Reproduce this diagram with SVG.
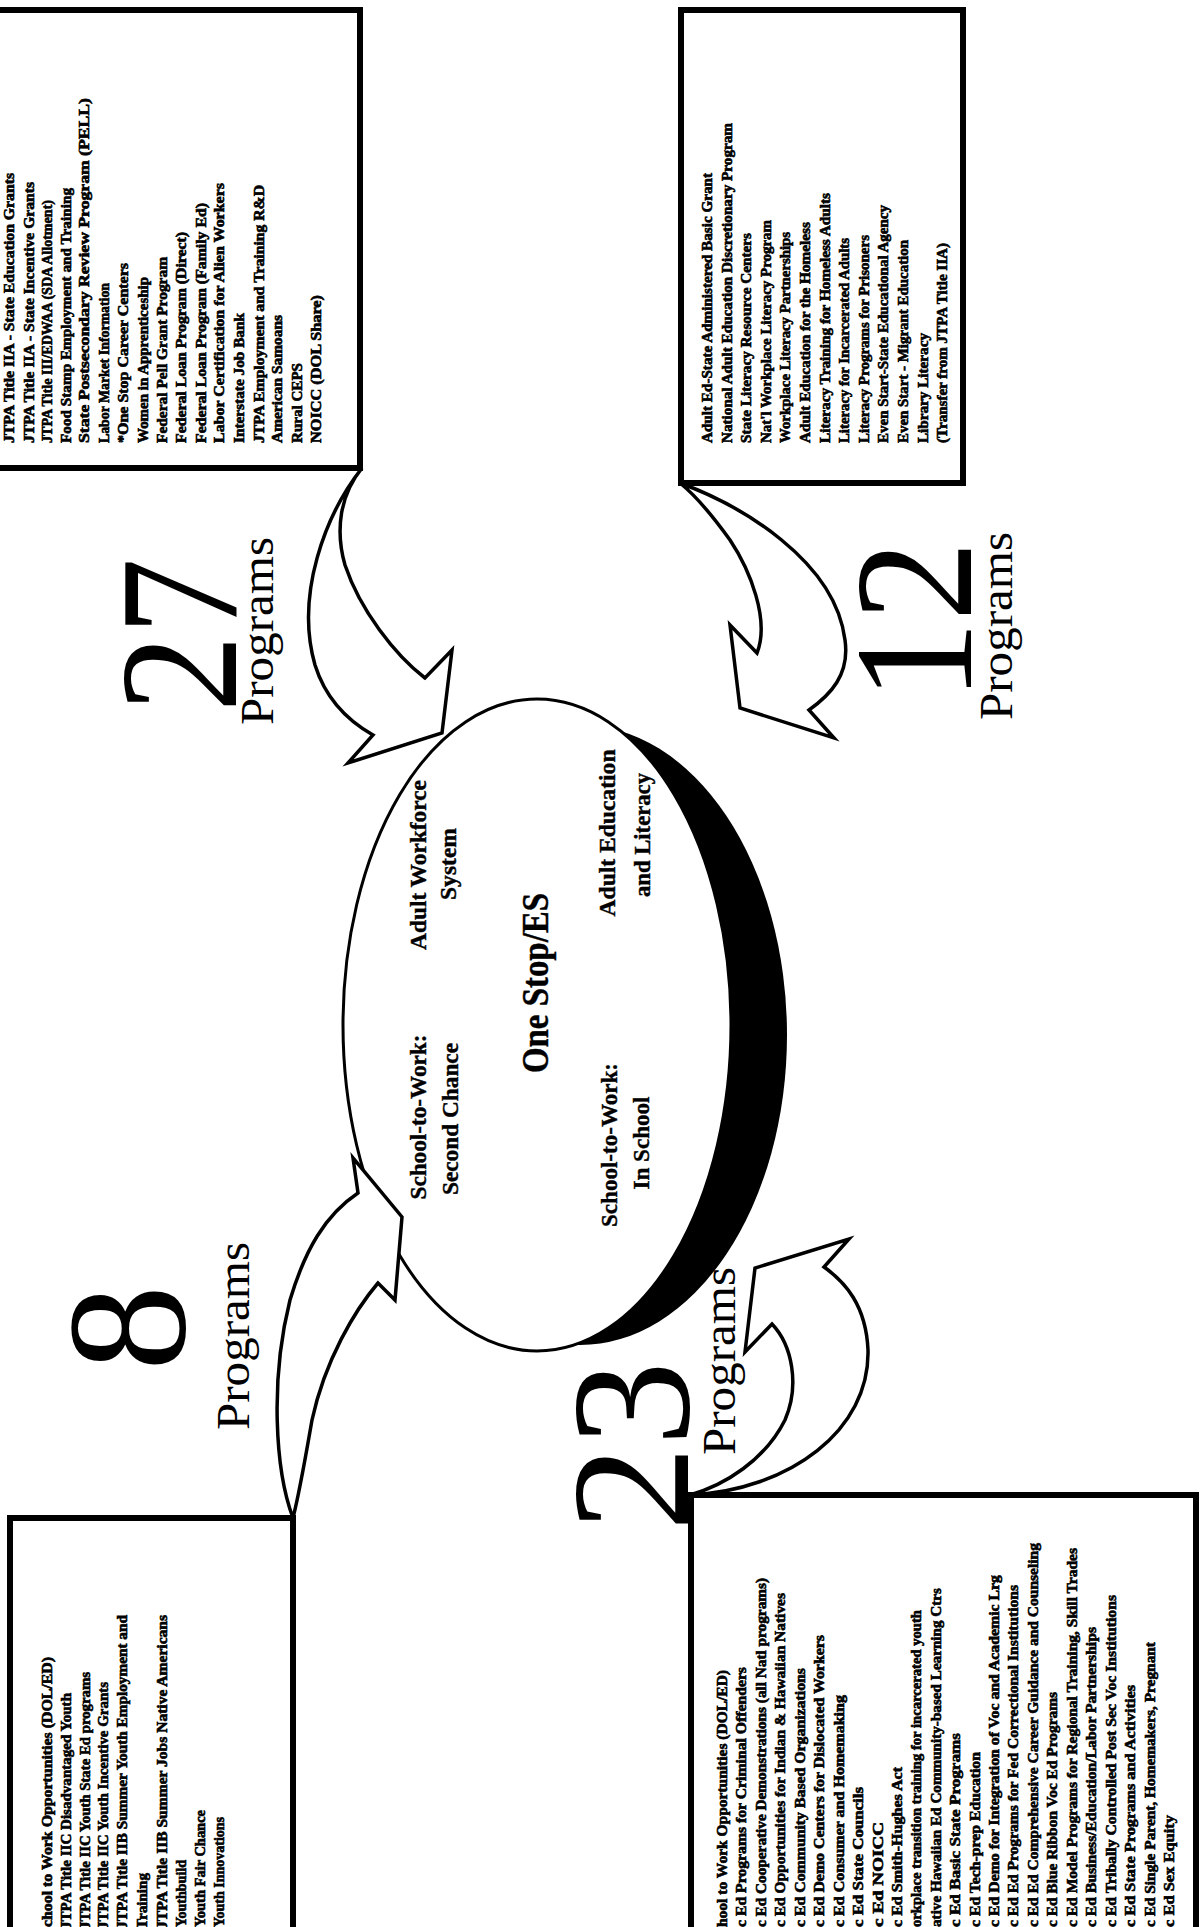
<svg xmlns="http://www.w3.org/2000/svg" width="1200" height="1927" viewBox="0 0 1200 1927">
<style>
.t{font-family:"Liberation Serif",serif;font-weight:bold;font-size:14px;fill:#000;stroke:#000;stroke-width:0.6}
.lb{font-family:"Liberation Serif",serif;font-weight:bold;font-size:24px;fill:#000;stroke:#000;stroke-width:0.4}
.big{font-family:"Liberation Serif",serif;font-size:170px;fill:#000}
.pg{font-family:"Liberation Serif",serif;font-size:46px;fill:#000}
.box{fill:#fff;stroke:#000;stroke-width:6}
.arr{fill:#fff;stroke:#000;stroke-width:3.5;stroke-linejoin:miter}
</style>
<rect width="1200" height="1927" fill="#fff"/>
<g id="hub">
<ellipse cx="580" cy="1035" rx="207" ry="310" fill="#000"/>
<ellipse cx="537" cy="1025" rx="194" ry="326" fill="#fff" stroke="#000" stroke-width="3"/>
<g class="lb" text-anchor="middle">
<text transform="translate(426,865) rotate(-90)" textLength="170" lengthAdjust="spacingAndGlyphs">Adult Workforce</text>
<text transform="translate(456,864) rotate(-90)" textLength="72" lengthAdjust="spacingAndGlyphs">System</text>
<text transform="translate(426,1117) rotate(-90)" textLength="165" lengthAdjust="spacingAndGlyphs">School-to-Work:</text>
<text transform="translate(458,1119) rotate(-90)" textLength="152" lengthAdjust="spacingAndGlyphs">Second Chance</text>
<text transform="translate(615,833) rotate(-90)" textLength="167" lengthAdjust="spacingAndGlyphs">Adult Education</text>
<text transform="translate(650,835) rotate(-90)" textLength="124" lengthAdjust="spacingAndGlyphs">and Literacy</text>
<text transform="translate(617,1145) rotate(-90)" textLength="164" lengthAdjust="spacingAndGlyphs">School-to-Work:</text>
<text transform="translate(649,1143) rotate(-90)" textLength="93" lengthAdjust="spacingAndGlyphs">In School</text>
<text transform="translate(548,983) rotate(-90)" style="font-size:37px" textLength="180" lengthAdjust="spacingAndGlyphs">One Stop/ES</text>
</g>
</g>
<g id="connectors">
<path class="arr" d="M362,468 C325,515 295,595 315,665 C326,700 350,722 373,735 L348,763 L442,733 L452,650 L425,678 C395,655 360,610 345,565 C335,530 340,495 362,468 Z"/>
<path class="arr" d="M680,483 C740,505 835,560 845,640 C850,675 830,695 809,710 L834,738 L740,708 L730,625 L757,653 C770,620 750,570 730,540 C712,515 695,495 680,483 Z"/>
<path class="arr" d="M293,1518 C275,1470 270,1380 290,1300 C305,1250 325,1215 358,1193 L353,1158 L402,1217 L395,1300 L378,1283 C355,1310 325,1360 312,1420 C305,1460 300,1490 293,1518 Z"/>
<path class="arr" d="M690,1495 C790,1490 870,1430 868,1350 C866,1305 845,1282 824,1267 L849,1239 L755,1268 L745,1352 L772,1324 C792,1345 800,1385 785,1420 C765,1460 725,1485 690,1495 Z"/>
</g>
<g id="box-27">
<rect class="box" x="-10" y="10" width="370" height="458"/>
<g class="t">
<text transform="translate(14,443) rotate(-90)" textLength="270" lengthAdjust="spacingAndGlyphs">JTPA Title IIA - State Education Grants</text>
<text transform="translate(34,443) rotate(-90)" textLength="261" lengthAdjust="spacingAndGlyphs">JTPA Title IIA - State Incentive Grants</text>
<text transform="translate(52,443) rotate(-90)" textLength="243" lengthAdjust="spacingAndGlyphs">JTPA Title III/EDWAA (SDA Allotment)</text>
<text transform="translate(71,443) rotate(-90)" textLength="255" lengthAdjust="spacingAndGlyphs">Food Stamp Employment and Training</text>
<text transform="translate(89,443) rotate(-90)" textLength="345" lengthAdjust="spacingAndGlyphs">State Postsecondary Review Program (PELL)</text>
<text transform="translate(109,443) rotate(-90)" textLength="160" lengthAdjust="spacingAndGlyphs">Labor Market Information</text>
<text transform="translate(128,443) rotate(-90)" textLength="180" lengthAdjust="spacingAndGlyphs">*One Stop Career Centers</text>
<text transform="translate(148,443) rotate(-90)" textLength="166" lengthAdjust="spacingAndGlyphs">Women in Apprenticeship</text>
<text transform="translate(167,443) rotate(-90)" textLength="186" lengthAdjust="spacingAndGlyphs">Federal Pell Grant Program</text>
<text transform="translate(186,443) rotate(-90)" textLength="211" lengthAdjust="spacingAndGlyphs">Federal Loan Program (Direct)</text>
<text transform="translate(206,443) rotate(-90)" textLength="240" lengthAdjust="spacingAndGlyphs">Federal Loan Program (Family Ed)</text>
<text transform="translate(224,443) rotate(-90)" textLength="260" lengthAdjust="spacingAndGlyphs">Labor Certification for Alien Workers</text>
<text transform="translate(244,443) rotate(-90)" textLength="130" lengthAdjust="spacingAndGlyphs">Interstate Job Bank</text>
<text transform="translate(264,443) rotate(-90)" textLength="258" lengthAdjust="spacingAndGlyphs">JTPA Employment and Training R&amp;D</text>
<text transform="translate(282,443) rotate(-90)" textLength="128" lengthAdjust="spacingAndGlyphs">American Samoans</text>
<text transform="translate(302,443) rotate(-90)" textLength="80" lengthAdjust="spacingAndGlyphs">Rural CEPS</text>
<text transform="translate(321,443) rotate(-90)" textLength="148" lengthAdjust="spacingAndGlyphs">NOICC (DOL Share)</text>
</g>
<text class="big" transform="translate(236,712) rotate(-90)" textLength="154" lengthAdjust="spacingAndGlyphs">27</text>
<text class="pg" transform="translate(273,725) rotate(-90)" textLength="188" lengthAdjust="spacingAndGlyphs">Programs</text>
</g>
<g id="box-12">
<rect class="box" x="681" y="10" width="282" height="473"/>
<g class="t">
<text transform="translate(712,443) rotate(-90)" textLength="270" lengthAdjust="spacingAndGlyphs">Adult Ed-State Administered Basic Grant</text>
<text transform="translate(732,443) rotate(-90)" textLength="320" lengthAdjust="spacingAndGlyphs">National Adult Education Discretionary Program</text>
<text transform="translate(751,443) rotate(-90)" textLength="210" lengthAdjust="spacingAndGlyphs">State Literacy Resource Centers</text>
<text transform="translate(771,443) rotate(-90)" textLength="223" lengthAdjust="spacingAndGlyphs">Nat'l Workplace Literacy Program</text>
<text transform="translate(790,443) rotate(-90)" textLength="211" lengthAdjust="spacingAndGlyphs">Workplace Literacy Partnerships</text>
<text transform="translate(810,443) rotate(-90)" textLength="221" lengthAdjust="spacingAndGlyphs">Adult Education for the Homeless</text>
<text transform="translate(830,443) rotate(-90)" textLength="250" lengthAdjust="spacingAndGlyphs">Literacy Training for Homeless Adults</text>
<text transform="translate(849,443) rotate(-90)" textLength="205" lengthAdjust="spacingAndGlyphs">Literacy for Incarcerated Adults</text>
<text transform="translate(869,443) rotate(-90)" textLength="208" lengthAdjust="spacingAndGlyphs">Literacy Programs for Prisoners</text>
<text transform="translate(888,443) rotate(-90)" textLength="238" lengthAdjust="spacingAndGlyphs">Even Start-State Educational Agency</text>
<text transform="translate(908,443) rotate(-90)" textLength="203" lengthAdjust="spacingAndGlyphs">Even Start - Migrant Education</text>
<text transform="translate(928,443) rotate(-90)" textLength="110" lengthAdjust="spacingAndGlyphs">Library Literacy</text>
<text transform="translate(947,443) rotate(-90)" textLength="200" lengthAdjust="spacingAndGlyphs">(Transfer from JTPA Title IIA)</text>
</g>
<text class="big" transform="translate(971,701) rotate(-90)" textLength="160" lengthAdjust="spacingAndGlyphs">12</text>
<text class="pg" transform="translate(1012,720) rotate(-90)" textLength="188" lengthAdjust="spacingAndGlyphs">Programs</text>
</g>
<g id="box-8">
<rect class="box" x="10" y="1518" width="283" height="420"/>
<g class="t">
<text transform="translate(52,1927) rotate(-90)" textLength="270" lengthAdjust="spacingAndGlyphs">chool to Work Opportunities (DOL/ED)</text>
<text transform="translate(71,1929) rotate(-90)" textLength="236" lengthAdjust="spacingAndGlyphs">JTPA Title IIC Disadvantaged Youth</text>
<text transform="translate(90,1929) rotate(-90)" textLength="257" lengthAdjust="spacingAndGlyphs">JTPA Title IIC Youth State Ed programs</text>
<text transform="translate(108,1929) rotate(-90)" textLength="247" lengthAdjust="spacingAndGlyphs">JTPA Title IIC Youth Incentive Grants</text>
<text transform="translate(127,1929) rotate(-90)" textLength="314" lengthAdjust="spacingAndGlyphs">JTPA Title IIB Summer Youth Employment and</text>
<text transform="translate(147,1929) rotate(-90)" textLength="56" lengthAdjust="spacingAndGlyphs">Training</text>
<text transform="translate(167,1929) rotate(-90)" textLength="314" lengthAdjust="spacingAndGlyphs">JTPA Title IIB Summer Jobs Native Americans</text>
<text transform="translate(186,1927) rotate(-90)" textLength="67" lengthAdjust="spacingAndGlyphs">Youthbuild</text>
<text transform="translate(205,1927) rotate(-90)" textLength="117" lengthAdjust="spacingAndGlyphs">Youth Fair Chance</text>
<text transform="translate(224,1927) rotate(-90)" textLength="110" lengthAdjust="spacingAndGlyphs">Youth Innovations</text>
</g>
<text class="big" transform="translate(184,1371) rotate(-90)" textLength="86" lengthAdjust="spacingAndGlyphs">8</text>
<text class="pg" transform="translate(249,1430) rotate(-90)" textLength="188" lengthAdjust="spacingAndGlyphs">Programs</text>
</g>
<g id="box-23">
<rect class="box" x="691" y="1495" width="505" height="440"/>
<g class="t">
<text transform="translate(727,1927) rotate(-90)" textLength="257" lengthAdjust="spacingAndGlyphs">hool to Work Opportunities (DOL/ED)</text>
<text transform="translate(746,1927) rotate(-90)" textLength="260" lengthAdjust="spacingAndGlyphs">c Ed  Programs for Criminal Offenders</text>
<text transform="translate(766,1927) rotate(-90)" textLength="349" lengthAdjust="spacingAndGlyphs">c Ed  Cooperative Demonstrations (all Natl programs)</text>
<text transform="translate(785,1927) rotate(-90)" textLength="334" lengthAdjust="spacingAndGlyphs">c Ed  Opportunities for Indian &amp; Hawaiian Natives</text>
<text transform="translate(805,1927) rotate(-90)" textLength="259" lengthAdjust="spacingAndGlyphs">c Ed  Community Based Organizations</text>
<text transform="translate(824,1927) rotate(-90)" textLength="292" lengthAdjust="spacingAndGlyphs">c Ed  Demo Centers for Dislocated Workers</text>
<text transform="translate(844,1927) rotate(-90)" textLength="232" lengthAdjust="spacingAndGlyphs">c Ed  Consumer and Homemaking</text>
<text transform="translate(863,1927) rotate(-90)" textLength="140" lengthAdjust="spacingAndGlyphs">c Ed  State Councils</text>
<text transform="translate(883,1927) rotate(-90)" textLength="105" lengthAdjust="spacingAndGlyphs">c Ed  NOICC</text>
<text transform="translate(902,1927) rotate(-90)" textLength="160" lengthAdjust="spacingAndGlyphs">c Ed  Smith-Hughes Act</text>
<text transform="translate(921,1927) rotate(-90)" textLength="317" lengthAdjust="spacingAndGlyphs">orkplace transition training for incarcerated youth</text>
<text transform="translate(941,1927) rotate(-90)" textLength="339" lengthAdjust="spacingAndGlyphs">ative Hawaiian Ed  Community-based Learning Ctrs</text>
<text transform="translate(960,1927) rotate(-90)" textLength="194" lengthAdjust="spacingAndGlyphs">c Ed  Basic State Programs</text>
<text transform="translate(980,1927) rotate(-90)" textLength="175" lengthAdjust="spacingAndGlyphs">c Ed  Tech-prep Education</text>
<text transform="translate(999,1927) rotate(-90)" textLength="352" lengthAdjust="spacingAndGlyphs">c Ed  Demo for Integration of Voc and Academic Lrg</text>
<text transform="translate(1018,1927) rotate(-90)" textLength="342" lengthAdjust="spacingAndGlyphs">c Ed  Ed Programs for Fed Correctional Institutions</text>
<text transform="translate(1038,1927) rotate(-90)" textLength="384" lengthAdjust="spacingAndGlyphs">c Ed  Ed Comprehensive Career Guidance and Counseling</text>
<text transform="translate(1057,1927) rotate(-90)" textLength="235" lengthAdjust="spacingAndGlyphs">c Ed  Blue Ribbon Voc Ed Programs</text>
<text transform="translate(1077,1927) rotate(-90)" textLength="379" lengthAdjust="spacingAndGlyphs">c Ed  Model Programs for Regional Training, Skill Trades</text>
<text transform="translate(1096,1927) rotate(-90)" textLength="300" lengthAdjust="spacingAndGlyphs">c Ed  Business/Education/Labor Partnerships</text>
<text transform="translate(1116,1927) rotate(-90)" textLength="332" lengthAdjust="spacingAndGlyphs">c Ed  Tribally Controlled Post Sec Voc Institutions</text>
<text transform="translate(1135,1927) rotate(-90)" textLength="242" lengthAdjust="spacingAndGlyphs">c Ed  State Programs and Activities</text>
<text transform="translate(1155,1927) rotate(-90)" textLength="285" lengthAdjust="spacingAndGlyphs">c Ed  Single Parent, Homemakers, Pregnant</text>
<text transform="translate(1174,1927) rotate(-90)" textLength="112" lengthAdjust="spacingAndGlyphs">c Ed  Sex Equity</text>
</g>
<text class="big" transform="translate(688,1531) rotate(-90)" textLength="170" lengthAdjust="spacingAndGlyphs">23</text>
<text class="pg" transform="translate(735,1455) rotate(-90)" textLength="188" lengthAdjust="spacingAndGlyphs">Programs</text>
</g>
</svg>
